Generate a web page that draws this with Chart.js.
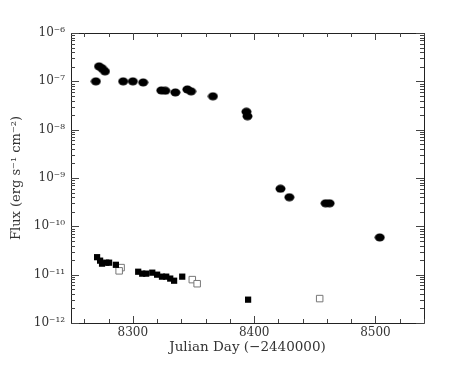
<!DOCTYPE html>
<html>
<head>
<meta charset="utf-8">
<script src="https://cdn.jsdelivr.net/npm/chart.js@4/dist/chart.umd.min.js"></script>
<style>
html,body{margin:0;padding:0;background:#fff;}
#c{display:block;}
</style>
</head>
<body>
<canvas id="c" width="463" height="382"></canvas>
<script>
// Filled circles (upper light curve)
const circleDays = [8269.5, 8272.1, 8274.6, 8277.0, 8292.0, 8300.0, 8308.5, 8323.4, 8326.7, 8335.0, 8344.9, 8348.0, 8366.0, 8393.6, 8394.5, 8421.7, 8429.0, 8458.9, 8462.2, 8503.5];
const circleFlux = [1.0e-7, 2.04e-7, 1.86e-7, 1.61e-7, 1.0e-7, 1.0e-7, 0.95e-7, 6.5e-8, 6.4e-8, 5.9e-8, 6.8e-8, 6.2e-8, 4.9e-8, 2.35e-8, 1.9e-8, 6.0e-10, 4.0e-10, 3.0e-10, 3.0e-10, 5.9e-11];
// Filled squares
const squareDays = [8270.5, 8273.0, 8274.6, 8278.0, 8280.4, 8286.0, 8304.4, 8307.7, 8311.0, 8316.0, 8320.0, 8324.0, 8327.5, 8330.8, 8334.0, 8340.7, 8395.0];
const squareFlux = [2.3e-11, 1.95e-11, 1.69e-11, 1.77e-11, 1.77e-11, 1.6e-11, 1.15e-11, 1.05e-11, 1.05e-11, 1.1e-11, 1.0e-11, 0.91e-11, 0.91e-11, 0.83e-11, 0.75e-11, 0.91e-11, 3.04e-12];
// Open squares
const openDays = [8290.3, 8288.7, 8349.0, 8353.0, 8454.0];
const openFlux = [1.4e-11, 1.2e-11, 0.79e-11, 0.65e-11, 3.2e-12];
// Axis ticks
const xTicks = [8300, 8400, 8500];
const yTicks = [1e-12, 1e-11, 1e-10, 1e-9, 1e-8, 1e-7, 1e-6];
const yTickLabels = ['10⁻¹²', '10⁻¹¹', '10⁻¹⁰', '10⁻⁹', '10⁻⁸', '10⁻⁷', '10⁻⁶'];
const xMin = 8249, xMax = 8540;

const toPts = (xs, ys) => xs.map((x, i) => ({x: x, y: ys[i]}));

// elliptical marker
const ell = document.createElement('canvas');
ell.width = 11; ell.height = 9;
(function(){
  const g = ell.getContext('2d');
  g.fillStyle = '#000';
  g.beginPath();
  g.ellipse(5.5, 4.5, 5.0, 4.0, 0, 0, Math.PI * 2);
  g.fill();
})();

const TXT = '#333';
const LINE = '#222';
const FAM = '"DejaVu Serif", "Liberation Serif", serif';

const frame = {
  id: 'frame',
  afterDraw(chart) {
    const ctx = chart.ctx, a = chart.chartArea;
    const xs = chart.scales.x, ys = chart.scales.y;
    ctx.save();
    ctx.strokeStyle = LINE;
    ctx.lineWidth = 1;
    ctx.beginPath();
    ctx.rect(Math.round(a.left) + 0.5, Math.round(a.top) + 0.5, Math.round(a.right - a.left), Math.round(a.bottom - a.top));
    ctx.stroke();
    ctx.strokeStyle = '#444';
    ctx.beginPath();
    for (let v = Math.ceil(xMin / 20) * 20; v <= xMax; v += 20) {
      const px = Math.round(xs.getPixelForValue(v)) + 0.5;
      const len = (v % 100 === 0) ? 7 : 4;
      ctx.moveTo(px, a.bottom); ctx.lineTo(px, a.bottom - len);
      ctx.moveTo(px, a.top); ctx.lineTo(px, a.top + len);
    }
    for (let i = 0; i < yTicks.length; i++) {
      const d = yTicks[i];
      const py = Math.round(ys.getPixelForValue(d)) + 0.5;
      ctx.moveTo(a.left, py); ctx.lineTo(a.left + 8, py);
      ctx.moveTo(a.right, py); ctx.lineTo(a.right - 8, py);
      if (i < yTicks.length - 1) {
        for (let m = 2; m <= 9; m++) {
          const q = Math.round(ys.getPixelForValue(m * d)) + 0.5;
          ctx.moveTo(a.left, q); ctx.lineTo(a.left + 4, q);
          ctx.moveTo(a.right, q); ctx.lineTo(a.right - 4, q);
        }
      }
    }
    ctx.stroke();
    ctx.restore();
  }
};

new Chart(document.getElementById('c'), {
  type: 'scatter',
  data: {
    datasets: [
      {data: toPts(circleDays, circleFlux), pointStyle: ell, pointRadius: 5, backgroundColor: '#000', borderColor: '#000'},
      {data: toPts(squareDays, squareFlux), pointStyle: 'rect', pointRadius: 4.4, backgroundColor: '#000', borderColor: '#000', borderWidth: 0},
      {data: toPts(openDays, openFlux), pointStyle: 'rect', pointRadius: 4.6, backgroundColor: '#fff', borderColor: '#777', borderWidth: 1}
    ]
  },
  options: {
    responsive: false,
    animation: false,
    events: [],
    layout: {padding: {top: 33, right: 39, left: 0, bottom: 0}},
    plugins: {legend: {display: false}, tooltip: {enabled: false}},
    scales: {
      x: {
        type: 'linear', min: xMin, max: xMax,
        afterBuildTicks: s => { s.ticks = xTicks.map(v => ({value: v})); },
        afterFit: s => { s.height = 59; },
        grid: {display: false, drawTicks: false},
        border: {display: false},
        ticks: {font: {family: FAM, size: 12}, color: TXT, padding: 3, maxRotation: 0, callback: v => String(v)},
        title: {display: true, text: 'Julian Day (−2440000)', font: {family: FAM, size: 13.5}, color: TXT, padding: {top: 0, bottom: 26}}
      },
      y: {
        type: 'logarithmic', min: 1e-12, max: 1e-6,
        afterBuildTicks: s => { s.ticks = yTicks.map(v => ({value: v})); },
        afterFit: s => { s.width = 71; },
        grid: {display: false, drawTicks: false},
        border: {display: false},
        ticks: {font: {family: FAM, size: 12}, color: TXT, padding: 6, callback: (v, i) => yTickLabels[i]},
        title: {display: true, text: 'Flux (erg s⁻¹ cm⁻²)', font: {family: FAM, size: 13}, color: TXT, padding: {top: 9, bottom: 0}}
      }
    }
  },
  plugins: [frame]
});
</script>
</body>
</html>
